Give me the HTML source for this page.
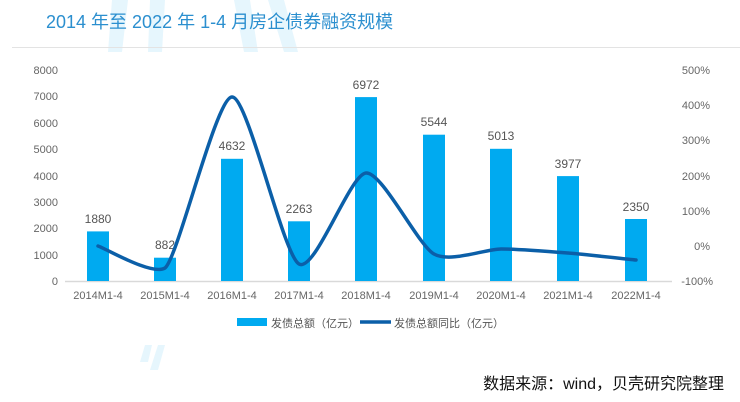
<!DOCTYPE html>
<html><head><meta charset="utf-8"><style>
html,body{margin:0;padding:0;background:#fff;}
svg{display:block;font-family:"Liberation Sans","Noto Sans CJK SC",sans-serif;}
</style></head><body>
<svg width="740" height="402" viewBox="0 0 740 402">
<rect width="740" height="402" fill="#fff"/>
<g fill="#e6f6fd">
<polygon points="112,0 128,0 122,52 108,52"/>
<polygon points="150,0 165,0 162,52 148,52"/>
<polygon points="234,0 250,0 258,52 244,52"/>
<polygon points="268,0 284,0 298,52 284,52"/>
<polygon points="145,345 152,345 148,362 140,362"/>
<polygon points="158,345 165,345 158,370 150,370"/>
</g>
<text x="46" y="28" font-size="18" fill="#2b8fcf">2014 年至 2022 年 1-4 月房企债券融资规模</text>
<line x1="12" y1="47.5" x2="740" y2="47.5" stroke="#e3e3e3" stroke-width="1"/>
<g font-size="11" fill="#666" text-anchor="end">
<text x="58" y="74">8000</text><text x="58" y="100">7000</text><text x="58" y="127">6000</text><text x="58" y="153">5000</text><text x="58" y="180">4000</text><text x="58" y="206">3000</text><text x="58" y="232">2000</text><text x="58" y="259">1000</text><text x="58" y="285">0</text>
</g>
<g font-size="11" fill="#666" text-anchor="end">
<text x="710" y="74">500%</text><text x="710" y="109">400%</text><text x="710" y="144">300%</text><text x="710" y="180">200%</text><text x="710" y="215">100%</text><text x="710" y="250">0%</text><text x="713" y="285">-100%</text>
</g>
<line x1="65" y1="281.5" x2="672" y2="281.5" stroke="#d9d9d9" stroke-width="1.5"/>
<g fill="#00aaf0">
<rect x="87" y="231.4" width="22" height="49.6"/>
<rect x="154" y="257.7" width="22" height="23.3"/>
<rect x="221" y="158.8" width="22" height="122.2"/>
<rect x="288" y="221.3" width="22" height="59.7"/>
<rect x="355" y="97.1" width="22" height="183.9"/>
<rect x="423" y="134.7" width="22" height="146.3"/>
<rect x="490" y="148.8" width="22" height="132.2"/>
<rect x="557" y="176.1" width="22" height="104.9"/>
<rect x="625" y="219" width="22" height="62"/>
</g>
<g font-size="12" fill="#555" text-anchor="middle">
<text x="98" y="223">1880</text><text x="165" y="249">882</text><text x="232" y="150">4632</text><text x="299" y="213">2263</text><text x="366" y="89">6972</text><text x="434" y="126">5544</text><text x="501" y="140">5013</text><text x="568" y="168">3977</text><text x="636" y="211">2350</text>
</g>
<path d="M98,246 C106,248.6 152,276 165,268 C178,258 216,97.5 232,97 C248,96.5 283,254.9 299,264 C315,273.1 349.8,174.2 366,173 C382.2,171.8 417.8,244.9 434,254 C450.2,263.1 485,249.1 501,249 C517,248.9 551.8,251.7 568,253 C584.2,254.3 627.8,259.2 636,260" fill="none" stroke="#0b5fa8" stroke-width="3.5" stroke-linecap="round"/>
<g font-size="11" fill="#666" text-anchor="middle">
<text x="98" y="299">2014M1-4</text><text x="165" y="299">2015M1-4</text><text x="232" y="299">2016M1-4</text><text x="299" y="299">2017M1-4</text><text x="366" y="299">2018M1-4</text><text x="434" y="299">2019M1-4</text><text x="501" y="299">2020M1-4</text><text x="568" y="299">2021M1-4</text><text x="636" y="299">2022M1-4</text>
</g>
<rect x="237" y="318" width="30" height="8" fill="#00aaf0"/>
<text x="271" y="327" font-size="11" fill="#555">发债总额（亿元）</text>
<line x1="360" y1="322" x2="391" y2="322" stroke="#0b5fa8" stroke-width="3.5"/>
<text x="394" y="327" font-size="11" fill="#555">发债总额同比（亿元）</text>
<text x="724" y="389" font-size="16" fill="#111" text-anchor="end">数据来源：wind，贝壳研究院整理</text>
</svg>
</body></html>
